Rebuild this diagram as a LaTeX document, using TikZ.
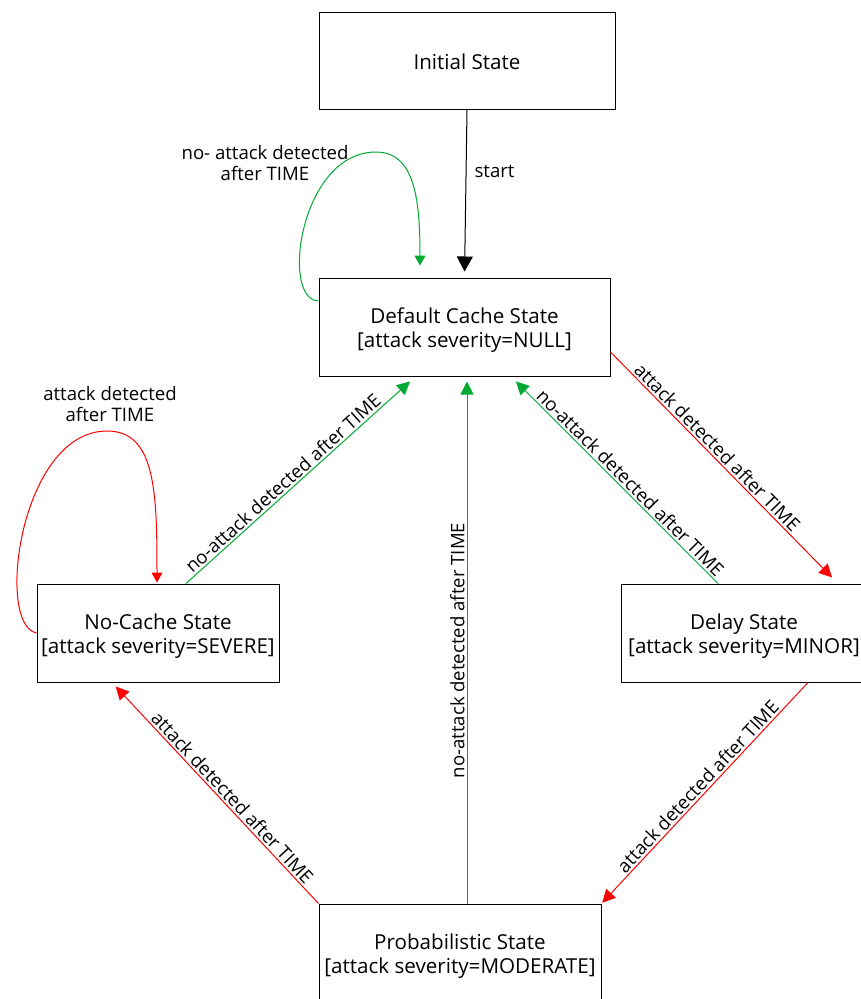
\documentclass[tikz,border=0pt]{standalone}
\usepackage{fontspec}
\setmainfont{Open Sans}
\usetikzlibrary{arrows.meta,calc}
\definecolor{okgreen}{RGB}{0,169,51}
\definecolor{badred}{RGB}{255,0,0}
\begin{document}
\begin{tikzpicture}[x=1pt,y=-1pt,
  statebox/.style={draw=black,line width=1pt,rectangle,inner sep=0pt,minimum height=98pt},
  boxtext/.style={align=center,font=\fontsize{20.6}{24}\selectfont,inner sep=0pt},
  lbl/.style={font=\fontsize{18.6}{21}\selectfont,inner sep=2pt},
  tip/.style={-{Triangle[length=13pt,width=13pt]}},
  bigtip/.style={-{Triangle[length=15pt,width=16pt]}},
  smalltip/.style={-{Triangle[length=10pt,width=11pt]}},
  goodedge/.style={draw=okgreen,line width=1pt},
  badedge/.style={draw=badred,line width=1pt}]
\useasboundingbox (0,0) rectangle (861,999);

% states: frame first, caption set slightly below the frame's centre
\node[statebox,minimum width=296pt,minimum height=97pt] (init) at (467,60.5) {};
\node[boxtext] (initText) at ([yshift=-1pt]init.center) {Initial State};
\node[statebox,minimum width=291pt] (def) at (464.5,327) {};
\node[boxtext] (defText) at ([yshift=-3pt]def.center) {Default Cache State\\{}[attack severity=NULL]};
\node[statebox,minimum width=242pt] (noc) at (158,633) {};
\node[boxtext] (nocText) at ([yshift=-3pt]noc.center) {No-Cache State\\{}[attack severity=SEVERE]};
\node[statebox,minimum width=246pt] (del) at (744,633) {};
\node[boxtext] (delText) at ([yshift=-3pt]del.center) {Delay State\\{}[attack severity=MINOR]};
\node[statebox,minimum width=282pt] (prob) at (460,953) {};
\node[boxtext] (probText) at ([yshift=-3pt]prob.center) {Probabilistic State\\{}[attack severity=MODERATE]};

% start transition
\draw[line width=1pt,bigtip,shorten >=6pt] (init.south) -- node[lbl,right,xshift=6pt,pos=0.37] {start} (def.north);

% staying in the default state
\draw[goodedge,smalltip,shorten >=12pt] ([yshift=26pt]def.west)
  .. controls (280,300) and (300,152) .. (376,152)
  .. controls (415,152) and (420,200) .. ([xshift=-44.5pt]def.north);
\node[lbl,align=center] (loopA) at (265,163.5) {no- attack detected\\after TIME};

% staying in the no-cache state
\draw[badedge,smalltip,shorten >=1pt] (noc.west)
  .. controls (-5,625) and (20,431) .. (107,431)
  .. controls (155,431) and (157,490) .. ([xshift=-1pt]noc.north);
\node[lbl,align=center] (loopB) at (110,404.5) {attack detected\\after TIME};

% escalation
\draw[badedge,tip,shorten >=8.5pt] ([yshift=-25pt]def.east) -- node[lbl,sloped,above,pos=0.44] {attack detected after TIME} ([xshift=94pt]del.north);
\draw[badedge,tip,shorten >=1pt] ([xshift=64pt]del.south) -- node[lbl,sloped,above] {attack detected after TIME} (prob.north east);
\draw[badedge,tip,shorten >=5.5pt] (prob.north west) -- node[lbl,sloped,above,pos=0.45] {attack detected after TIME} ([xshift=-46pt]noc.south);

% recovery
\draw[goodedge,tip,shorten >=7pt] ([xshift=-26pt]del.north) -- node[lbl,sloped,above,pos=0.455] {no-attack detected after TIME} ([xshift=46.5pt]def.south);
\draw[goodedge,tip,shorten >=5pt] ([xshift=7pt]prob.north) -- node[lbl,sloped,above,pos=0.48] {no-attack detected after TIME} ([xshift=2.5pt]def.south);
\draw[goodedge,tip,shorten >=7.4pt] ([xshift=28pt]noc.north) -- node[lbl,sloped,above,pos=0.45] {no-attack detected after TIME} ([xshift=-49pt]def.south);
\end{tikzpicture}
\end{document}
